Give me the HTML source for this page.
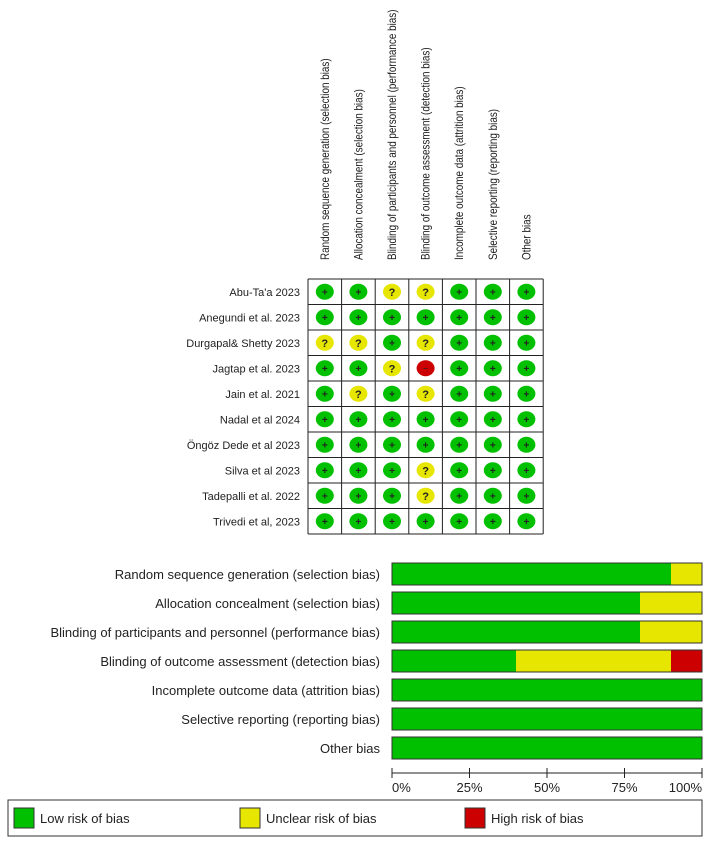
<!DOCTYPE html>
<html><head><meta charset="utf-8"><style>
body{margin:0;background:#fff;width:708px;height:841px;overflow:hidden;font-family:"Liberation Sans",sans-serif}
svg text{font-family:"Liberation Sans",sans-serif;fill:#222}
</style></head><body>
<svg id="c" width="708" height="841"></svg>
<script>
const domains=["Random sequence generation (selection bias)","Allocation concealment (selection bias)","Blinding of participants and personnel (performance bias)","Blinding of outcome assessment (detection bias)","Incomplete outcome data (attrition bias)","Selective reporting (reporting bias)","Other bias"];
const studies=["Abu-Ta'a 2023","Anegundi et al. 2023","Durgapal& Shetty 2023","Jagtap et al. 2023","Jain et al. 2021","Nadal et al 2024","Öngöz Dede et al 2023","Silva et al 2023","Tadepalli et al. 2022","Trivedi et al, 2023"];
const judgements=["LL??LLL","LLLLLLL","??L?LLL","LL?HLLL","L?L?LLL","LLLLLLL","LLLLLLL","LLL?LLL","LLL?LLL","LLLLLLL"];
const lowPct=[90,80,80,40,100,100,100];
const unclearPct=[10,20,20,50,0,0,0];
const highPct=[0,0,0,10,0,0,0];
const ticks=["0%","25%","50%","75%","100%"];
const NS="http://www.w3.org/2000/svg",svg=document.getElementById("c");
function el(t,a,txt){const e=document.createElementNS(NS,t);for(const k in a)e.setAttribute(k,a[k]);if(txt!=null)e.textContent=txt;svg.appendChild(e);return e;}
const col={L:"#00c000",U:"#e6e600",H:"#cc0000"};
const gx0=308,gy0=279,cw=33.6,rh=25.5;
domains.forEach((d,i)=>{const t=el("text",{x:0,y:0,"font-size":"11.5",transform:`translate(${gx0+cw*i+cw/2+4},260) rotate(-90) scale(0.86,1)`},d);
});
studies.forEach((s,r)=>{const t=el("text",{x:300,y:gy0+rh*r+rh/2+4,"font-size":"11","text-anchor":"end"},s);

for(let c=0;c<7;c++){const j=judgements[r][c];const cx=gx0+cw*c+cw/2,cy=gy0+rh*r+rh/2;
const e=el("ellipse",{cx:cx,cy:cy,rx:9,ry:8,fill:j==="L"?col.L:j==="?"?col.U:col.H});

if(j==="L")el("text",{x:cx,y:cy+3.5,"font-size":"10","text-anchor":"middle","font-weight":"bold"},"+");
if(j==="?")el("text",{x:cx,y:cy+4,"font-size":"11","text-anchor":"middle","font-weight":"bold"},"?");
if(j==="H")el("text",{x:cx,y:cy+3,"font-size":"9","text-anchor":"middle",fill:"#600"},"−");}});
for(let c=0;c<=7;c++)el("line",{x1:gx0+cw*c,y1:gy0,x2:gx0+cw*c,y2:gy0+rh*10,stroke:"#222"});
for(let r=0;r<=10;r++)el("line",{x1:gx0,y1:gy0+rh*r,x2:gx0+cw*7,y2:gy0+rh*r,stroke:"#222"});
const bx0=392,bx1=702,by0=563,bs=29,bh=22;
const X=p=>bx0+(bx1-bx0)*p/100;
domains.forEach((d,i)=>{const y=by0+bs*i;
const t=el("text",{x:380,y:y+bh/2+5,"font-size":"13","text-anchor":"end"},d);

let a=0;[[lowPct[i],col.L],[unclearPct[i],col.U],[highPct[i],col.H]].forEach(([v,f])=>{if(v>0){const b=el("rect",{x:X(a),y:y,width:X(a+v)-X(a),height:bh,fill:f});}a+=v;});
el("rect",{x:bx0,y:y,width:bx1-bx0,height:bh,fill:"none",stroke:"#333"});});
el("line",{x1:bx0,y1:773,x2:bx1,y2:773,stroke:"#222"});
ticks.forEach((t,i)=>{const x=X(i*25);el("line",{x1:x,y1:768,x2:x,y2:778,stroke:"#222"});
const tt=el("text",{x:x,y:792,"font-size":"13","text-anchor":i==0?"start":i==4?"end":"middle"},t);
});
const lg=el("rect",{x:8,y:800,width:694,height:36,fill:"#fff",stroke:"#333"});
[["Low risk of bias",col.L,14],["Unclear risk of bias",col.U,240],["High risk of bias",col.H,465]].forEach(([n,f,x])=>{
el("rect",{x:x,y:808,width:20,height:20,fill:f,stroke:"#333"});
const t=el("text",{x:x+26,y:823,"font-size":"13"},n);});
</script>
</body></html>
